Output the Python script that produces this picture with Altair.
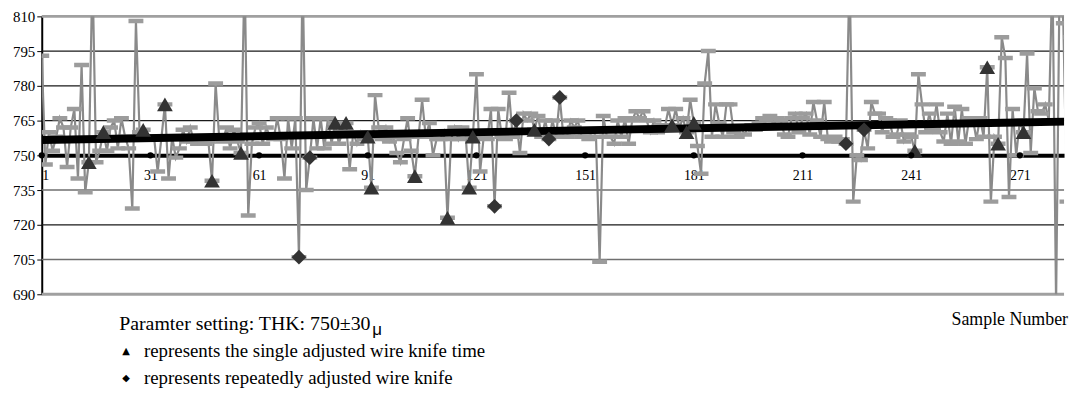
import altair as alt
import pandas as pd

# ---- data ----
values = [
    793, 746, 760, 752, 758, 766, 762, 745, 762, 770,
    740, 789, 734, 747, 830, 747, 752, 760, 752, 762,
    765, 753, 766, 758, 753, 727, 808, 760, 761, 758,
    757, 758, 743, 757, 772, 740, 758, 749, 753, 761,
    756, 762, 756, 755, 757, 755, 756, 739, 781, 757,
    756, 762, 753, 761, 756, 751, 830, 724, 755, 762,
    764, 755, 762, 758, 757, 766, 757, 740, 766, 753,
    766, 706, 830, 735, 749, 766, 753, 766, 753, 766,
    755, 764, 755, 760, 764, 744, 760, 755, 760, 757,
    758, 736, 776, 762, 757, 762, 756, 758, 751, 747,
    757, 766, 752, 741, 758, 774, 758, 764, 750, 757,
    757, 760, 723, 757, 762, 757, 762, 759, 736, 758,
    785, 743, 758, 757, 770, 728, 770, 758, 757, 777,
    758, 765, 751, 768, 765, 768, 761, 767, 758, 765,
    757, 765, 758, 775, 758, 758, 765, 762, 765, 758,
    758, 757, 761, 758, 704, 767, 758, 758, 755, 765,
    758, 766, 755, 765, 769, 766, 769, 765, 760, 765,
    760, 763, 762, 770, 763, 770, 762, 766, 760, 774,
    764, 754, 742, 781, 795, 758, 772, 764, 758, 772,
    772, 760, 758, 762, 759, 762, 763, 761, 764, 766,
    765, 767, 763, 766, 765, 759, 758, 766, 768, 760,
    766, 768, 759, 773, 765, 758, 773, 757, 756, 758,
    756, 757, 755, 830, 730, 750, 748, 761, 753, 773,
    768, 768, 760, 766, 765, 758, 759, 765, 756, 759,
    758, 752, 785, 772, 760, 768, 761, 772, 760, 756,
    768, 755, 771, 756, 770, 755, 766, 766, 757, 766,
    758, 788, 730, 758, 755, 801, 792, 732, 770, 750,
    765, 760, 794, 751, 779, 769, 768, 772, 765, 830,
    686, 830, 807, 730, 801,
]
samples = list(range(1, len(values) + 1))

triangle_samples = [14, 18, 29, 35, 48, 56, 82, 85, 91, 92, 104, 113, 119, 120,
                    137, 175, 179, 181, 242, 262, 265, 272]
diamond_samples = [72, 75, 126, 132, 141, 144, 223, 228]

trend_x = [1, 285]
trend_y = [756.6, 764.6]

x_ticks = [1, 31, 61, 91, 121, 151, 181, 211, 241, 271]
y_ticks = [690, 705, 720, 735, 750, 765, 780, 795, 810]
grid_dark = [795, 780, 765, 720]
grid_mid = [735, 705]
grid_light = [810, 690]
target = 750

# ---- tables ----
df = pd.DataFrame({"sample": samples, "value": values})
tri_df = df[df["sample"].isin(triangle_samples)]
dia_df = df[df["sample"].isin(diamond_samples)]
trend_df = pd.DataFrame({"sample": trend_x, "value": trend_y})
dots_df = pd.DataFrame({"sample": x_ticks, "value": [target] * len(x_ticks)})

W, H = 1030, 280
SERIF = "Liberation Serif"

xscale = alt.Scale(domain=[1, 283.2], nice=False, zero=False)
yscale = alt.Scale(domain=[690, 810], nice=False, zero=False)

x_axis = alt.Axis(values=x_ticks, title=None, grid=False, ticks=False,
                  domainColor="#000000", domainWidth=4, offset=-140,
                  labelFont=SERIF, labelFontSize=14, labelColor="#000000",
                  labelPadding=13, labelFlush=False, labelOverlap=False,
                  labelAlign={"condition": {"test": "datum.value === 1", "value": "left"},
                              "value": "center"})
y_axis = alt.Axis(values=y_ticks, title=None, grid=False,
                  domainColor="#000000", domainWidth=2,
                  tickColor="#000000", tickSize=5, tickWidth=1,
                  labelFont=SERIF, labelFontSize=15, labelColor="#000000",
                  labelPadding=2, labelOverlap=False, labelFlush=False)

X = alt.X("sample:Q", scale=xscale, axis=x_axis)
Y = alt.Y("value:Q", scale=yscale, axis=y_axis)


def grid(vals, color, width):
    return alt.Chart(pd.DataFrame({"value": vals})).mark_rule(
        color=color, strokeWidth=width).encode(y=Y)


g1 = grid(grid_dark, "#1a1a1a", 1.3)
g2 = grid(grid_mid, "#6f6f6f", 1.5)
g3 = grid(grid_light, "#a0a0a0", 3)

line = alt.Chart(df).mark_line(color="#8a8a8a", strokeWidth=2.2, clip=True).encode(x=X, y=Y)
caps = alt.Chart(df).mark_tick(orient="horizontal", color="#9c9c9c", size=15,
                               thickness=4.5, clip=True, opacity=1).encode(x=X, y=Y)
trend = alt.Chart(trend_df).mark_line(color="#000000", strokeWidth=8, clip=True).encode(x=X, y=Y)
tris = alt.Chart(tri_df).mark_point(shape="triangle-up", filled=True, size=250,
                                    color="#333333", opacity=1).encode(x=X, y=Y)
dias = alt.Chart(dia_df).mark_point(shape="diamond", filled=True, size=220,
                                    color="#333333", opacity=1).encode(x=X, y=Y)
dots = alt.Chart(dots_df).mark_circle(color="#000000", size=40, opacity=1).encode(x=X, y=Y)


def label(text, px, py, size=19, font=SERIF, align="left", baseline="alphabetic"):
    return alt.Chart(pd.DataFrame({"t": [text]})).mark_text(
        font=font, fontSize=size, color="#000000", align=align, baseline=baseline
    ).encode(text="t:N", x=alt.value(px), y=alt.value(py))


t1 = label("Paramter setting: THK: 750±30", 78, 316, size=20)
t1mu = label("μ", 333, 321, size=17, font="Liberation Sans")
t2m = label("▲", 85, 337, size=10, font="DejaVu Sans", align="center", baseline="middle")
t2 = label("represents the single adjusted wire knife time", 103, 343)
t3m = label("◆", 85, 364, size=10, font="DejaVu Sans", align="center", baseline="middle")
t3 = label("represents repeatedly adjusted wire knife", 103, 370)
t4 = label("Sample Number", 1034, 311, size=18, align="right")

chart = alt.layer(
    g1, g2, g3, line, caps, trend, tris, dias, dots,
    t1, t1mu, t2m, t2, t3m, t3, t4
).properties(
    width=W, height=H,
    autosize=alt.AutoSizeParams(type="none"),
    padding={"left": 34, "top": 7, "right": 6, "bottom": 93},
    background="#ffffff",
).configure_view(strokeWidth=0)

chart.save("out.html", embed_options={"renderer": "svg", "actions": False})
